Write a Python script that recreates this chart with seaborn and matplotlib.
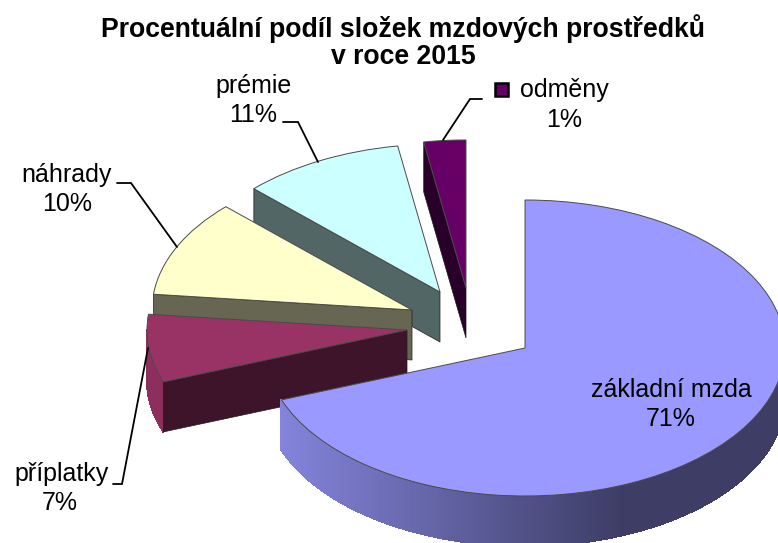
#!/usr/bin/env python3
"""Exploded 3D-look pie of wage components, 2015"""

import numpy as np
import matplotlib
matplotlib.use("Agg")
import matplotlib.pyplot as plt
from matplotlib.collections import PolyCollection
from matplotlib.patches import Rectangle
import seaborn as sns

categories = ["základní mzda", "příplatky", "náhrady", "prémie", "odměny"]
pct_labels = ["71%", "7%", "10%", "11%", "1%"]
# slice sizes as drawn in the picture (they differ a bit from the printed labels)
shares = [69.3, 7.4, 10.6, 10.1, 2.6]

slice_colors = ["#9999ff", "#993366", "#ffffcc", "#ccffff", "#660066"]

# layout, in pixels of the 778x543 picture
W, H = 778, 543
CX, CY = 525, 348      # tip of the main slice
RX, RY = 260, 148      # pie ellipse radii
DEPTH = 50
tips = [(525, 348), (407, 330), (412, 310), (440, 292), (466, 288)]

sns.set_theme(style="white")
plt.rcParams['font.family'] = ['Liberation Sans', 'DejaVu Sans']
palette = sns.color_palette(slice_colors)

fig = plt.figure(figsize=(W / 100, H / 100), dpi=100)

# Pie axes: one data unit is one radius, the unequal scales squash the circle
ax = fig.add_axes([0, 0, 1, 1])
wedges, _ = ax.pie(shares, colors=palette, startangle=90, counterclock=False,
                   radius=1, wedgeprops=dict(linewidth=0.7, edgecolor="#4a4a4a"))
ax.set_aspect("auto")
ax.set_xlim(-CX / RX, (W - CX) / RX)
ax.set_ylim((CY - H) / RY, CY / RY)
ax.axis("off")

depth = DEPTH / RY


def rim_shade(x):
    # side lighting: lighter on the left, dark from the middle on
    px = x * RX + CX
    return np.interp(px, [150, 282, 620], [0.92, 0.86, 0.40])


for i, wedge in enumerate(wedges):
    z = 10 * (len(wedges) - i) + 10
    tx = (tips[i][0] - CX) / RX
    ty = (CY - tips[i][1]) / RY
    wedge.set_center((tx, ty))
    wedge.set_zorder(z)
    base = np.array(palette[i])

    # cut face along the lower straight edge
    t2 = np.radians(wedge.theta2)
    ex, ey = tx + np.cos(t2), ty + np.sin(t2)
    ax.fill([tx, ex, ex, tx], [ty, ey, ey - depth, ty - depth],
            facecolor=base * 0.4, edgecolor="#1c1c1c", linewidth=0.5, zorder=z - 1)

    # outer rim, only the part that faces the viewer
    angles = np.radians(np.linspace(wedge.theta1, wedge.theta2, 400))
    angles = angles[np.sin(angles) < 0]
    if len(angles) > 1:
        xs = tx + np.cos(angles)
        ys = ty + np.sin(angles)
        polys = []
        cols = []
        for k in range(len(angles) - 1):
            polys.append([(xs[k], ys[k]), (xs[k + 1], ys[k + 1]),
                          (xs[k + 1], ys[k + 1] - depth), (xs[k], ys[k] - depth)])
            cols.append(base * rim_shade(xs[k]))
        ax.add_collection(PolyCollection(polys, facecolors=cols, edgecolors=cols,
                                         linewidths=0.8, antialiaseds=False, zorder=z - 2))

# Overlay in pixel coordinates for labels and leader lines
ov = fig.add_axes([0, 0, 1, 1], facecolor="none")
ov.set_xlim(0, W)
ov.set_ylim(H, 0)
ov.axis("off")

ov.text(403, 29, "Procentuální podíl složek mzdových prostředků", ha="center", va="center",
        fontsize=19.2, fontweight="bold", color="black")
ov.text(403, 57, "v roce 2015", ha="center", va="center",
        fontsize=19.2, fontweight="bold", color="black")

label_pos = [(671, 390, 671, 419), (62, 474, 60, 503), (67, 175, 67, 204),
             (254, 86, 253, 115), (564, 90, 564, 120)]
for name, pct, (x1, y1, x2, y2) in zip(categories, pct_labels, label_pos):
    ov.text(x1, y1, name, ha="center", va="center", fontsize=18, color="black")
    ov.text(x2, y2, pct, ha="center", va="center", fontsize=18, color="black")

leaders = [
    ([113, 122, 148], [484, 484, 348]),
    ([117, 131, 177], [183, 183, 247]),
    ([283, 298, 318], [122, 122, 162]),
    ([482, 470, 443], [99, 99, 140]),
]
for xs, ys in leaders:
    ov.plot(xs, ys, color="black", linewidth=1.3, solid_joinstyle="miter")

# legend key next to the small slice
ov.add_patch(Rectangle((495, 83), 13, 13, facecolor=palette[4], edgecolor="black", linewidth=1.8))

fig.savefig("out.png", dpi=100)
